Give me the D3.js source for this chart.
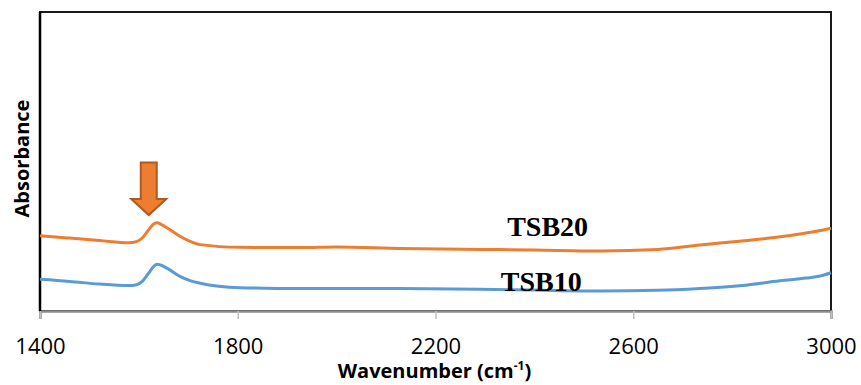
<!DOCTYPE html>
<html>
<head>
<meta charset="utf-8">
<script src="https://cdn.jsdelivr.net/npm/d3@7"></script>
<style>
	body{margin:0;background:#fff;}
	svg{display:block;}
</style>
</head>
<body>
<div id="chart"></div>
<script>
// wavenumber (cm-1)
var wave = [1400, 1460, 1520, 1580, 1595, 1608, 1620, 1630, 1637, 1645, 1660, 1683, 1705, 1724, 1805, 1926, 2000, 2128, 2290, 2400, 2533, 2650, 2735, 2820, 2897, 2950, 2978, 3000];
// absorbance, arbitrary units
var tsb20 = [0.252, 0.244, 0.236, 0.228, 0.232, 0.246, 0.272, 0.291, 0.295, 0.290, 0.275, 0.250, 0.232, 0.222, 0.213, 0.212, 0.214, 0.209, 0.206, 0.204, 0.201, 0.206, 0.221, 0.234, 0.248, 0.261, 0.269, 0.277];
var tsb10 = [0.106, 0.099, 0.090, 0.085, 0.088, 0.101, 0.127, 0.149, 0.156, 0.153, 0.140, 0.116, 0.101, 0.093, 0.078, 0.075, 0.075, 0.075, 0.073, 0.070, 0.067, 0.069, 0.075, 0.085, 0.101, 0.110, 0.117, 0.128];
var xTicks = [1400, 1800, 2200, 2600, 3000];
var seriesNames = ["TSB20", "TSB10"];
var seriesColors = ["#ED7D31", "#5B9BD5"];
// label anchors (wavenumber, absorbance)
var labelWave = [2345, 2332];
var labelAbs = [0.251, 0.067];
// arrow marking the peak
var arrowWave = 1620;
var arrowTop = 0.497, arrowTip = 0.321;

var width = 861, height = 385;
var margin = {top: 12, right: 30, bottom: 74, left: 40};

var svg = d3.select('#chart').append('svg')
	.attr('width', width)
	.attr('height', height);

var x = d3.scaleLinear().domain([1400, 3000]).range([margin.left, width - margin.right]);
var y = d3.scaleLinear().domain([0, 1]).range([height - margin.bottom, margin.top]);

// plot frame
svg.append('rect')
	.attr('x', x(1400)).attr('y', y(1))
	.attr('width', x(3000) - x(1400)).attr('height', y(0) - y(1))
	.attr('fill', 'none').attr('stroke', '#1a1a1a').attr('stroke-width', 2);

// x axis
var xAxis = svg.append('g')
	.attr('transform', 'translate(0,' + y(0) + ')')
	.call(d3.axisBottom(x).tickValues(xTicks).tickSize(8).tickPadding(19).tickFormat(d3.format('d')));
xAxis.select('.domain').attr('stroke', '#8c8c8c').attr('stroke-width', 2.5);
xAxis.selectAll('.tick line').attr('stroke', '#bfbfbf').attr('stroke-width', 1.5);
xAxis.selectAll('.tick text')
	.attr('fill', '#000')
	.style('font-family', '"Open Sans", sans-serif')
	.style('font-size', '22px');

// left axis line
svg.append('line')
	.attr('x1', x(1400)).attr('x2', x(1400))
	.attr('y1', y(1)).attr('y2', y(0))
	.attr('stroke', '#000').attr('stroke-width', 2.5);

// spectra
var series = [tsb20, tsb10];
var line = d3.line()
	.x(function(d, i){ return x(wave[i]); })
	.y(function(d){ return y(d); })
	.curve(d3.curveMonotoneX);

svg.selectAll('.spec').data(series).enter().append('path')
	.attr('class', 'spec')
	.attr('d', line)
	.attr('fill', 'none')
	.attr('stroke', function(d, i){ return seriesColors[i]; })
	.attr('stroke-width', 3);

// series labels
svg.selectAll('.lab').data(seriesNames).enter().append('text')
	.attr('class', 'lab')
	.attr('x', function(d, i){ return x(labelWave[i]); })
	.attr('y', function(d, i){ return y(labelAbs[i]); })
	.style('font-family', '"Liberation Serif", "Times New Roman", serif')
	.style('font-weight', 'bold')
	.style('font-size', '28px')
	.text(function(d){ return d; });

// arrow
var ax = x(arrowWave), aTop = y(arrowTop), aTip = y(arrowTip);
var headH = 16, shaftW = 8, headW = 17.5;
var arrowPts = [
	[ax - shaftW, aTop], [ax + shaftW, aTop], [ax + shaftW, aTip - headH],
	[ax + headW, aTip - headH], [ax, aTip], [ax - headW, aTip - headH],
	[ax - shaftW, aTip - headH]
];
svg.append('path')
	.attr('d', 'M' + arrowPts.join('L') + 'Z')
	.attr('fill', '#ED7D31')
	.attr('stroke', '#AE5A21')
	.attr('stroke-width', 2);

// axis titles
svg.append('text')
	.attr('x', (x(1400) + x(3000)) / 2 - 1)
	.attr('y', 378)
	.attr('text-anchor', 'middle')
	.style('font-family', '"Open Sans", sans-serif')
	.style('font-weight', 'bold')
	.style('font-size', '20px')
	.html('Wavenumber (cm<tspan dy="-8" font-size="12">-1</tspan><tspan dy="8">)</tspan>');

svg.append('text')
	.attr('transform', 'translate(29,' + y(0.51) + ') rotate(-90)')
	.attr('text-anchor', 'middle')
	.style('font-family', '"Open Sans", sans-serif')
	.style('font-weight', 'bold')
	.style('font-size', '20px')
	.text('Absorbance');
</script>
</body>
</html>
